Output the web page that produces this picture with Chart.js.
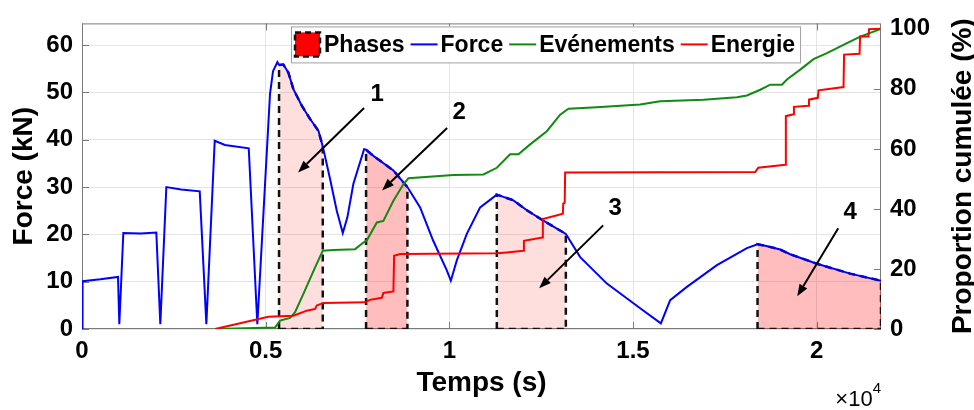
<!DOCTYPE html>
<html><head><meta charset="utf-8">
<script src="https://cdn.jsdelivr.net/npm/chart.js@4/dist/chart.umd.min.js"></script>
<style>html,body{margin:0;padding:0;background:#fff;overflow:hidden}#wrap{width:974px;height:410px}</style>
</head><body><div id="wrap"><canvas id="c" width="974" height="410"></canvas></div>
<script>
// ---------- data ----------
const forceTime = [0,15,500,980,1016,1125,1600,2023,2132,2296,2700,3205,3385,3613,3890,4539,4773,4983,5118,5200,5318,5364,5481,5618,5754,5983,6209,6435,6554,6753,6935,7099,7224,7388,7679,7733,7932,8477,8858,9204,9558,9931,10040,10203,10475,10838,11292,11744,12109,12561,13171,13561,14288,15194,15758,16011,16466,17283,18100,18389,18600,19006,19278,20005,20913,21750];
const forceKN = [0,10.1,10.5,11.0,1.0,20.3,20.2,20.4,1.0,30.0,29.5,29.1,1.0,39.8,38.9,38.2,1.0,30.7,49.7,54.5,56.4,55.8,55.9,54.2,50.7,47.2,44.4,41.9,38.6,31.7,25.0,20.3,23.6,30.7,38.0,37.9,36.6,33.5,30.0,25.7,18.7,12.4,10.2,14.5,20.1,25.7,28.4,27.2,25.1,22.9,20.1,15.2,9.6,4.4,1.2,6.1,8.9,13.5,17.1,17.9,17.6,16.8,15.8,13.8,11.7,10.2];
const eventTime = [3622,5255,5392,5664,5800,6026,6345,6554,6843,7434,7660,7752,8025,8204,8477,8749,8885,10111,10928,11292,11654,11881,12199,12654,13016,13242,14015,15194,15739,16918,17828,18100,18462,18735,19053,19190,19551,19913,20278,20823,21185,21730];
const eventPct = [0,0.5,2.8,3.7,5.6,11.7,20.5,26.1,26.3,26.6,28.8,29.5,35.5,36.0,42.7,48.2,50.2,51.3,51.5,53.7,58.2,58.2,61.5,65.9,71.4,73.4,73.9,74.8,75.9,76.4,77.2,77.8,79.7,81.4,81.4,83.1,86.4,89.9,91.9,95.2,97.4,99.9];
const energyTime = [3622,5073,5754,6119,6345,6391,6571,7706,7841,8161,8204,8477,8496,8659,11292,11565,12017,12030,12534,12545,13090,13100,13140,13152,18326,18408,19143,19160,19368,19380,19777,19790,20030,20049,20730,20745,21166,21180,21411,21425,21730];
const energyPct = [0,4.1,4.4,6.1,6.7,7.8,8.7,8.9,9.7,10.4,12.0,12.5,24.4,25.0,25.2,25.5,26.1,29.4,30.5,36.6,38.4,41.8,42.0,52.1,52.3,53.7,54.7,70.9,71.5,74.0,74.4,76.4,77.0,79.5,80.6,91.4,91.7,97.4,97.4,99.9,100];
const phaseStart = [5364,7733,11292,18389];
const phaseEnd = [6554,8858,13171,21750];
const annText = ['1','2','3','4'];
const annTextT = [8033,10266,14514,20913];
const annTextF = [49.7,45.7,25.5,24.6];
const annFromT = [7679,9939,14187,20586];
const annFromF = [46.7,42.5,21.9,21.3];
const annToT = [5882,8169,12444,19469];
const annToF = [33.1,29.3,8.6,6.9];
const xTicks = [0,5000,10000,15000,20000];
const xTickLabels = ['0','0.5','1','1.5','2'];
const yLeftTicks = [0,10,20,30,40,50,60];
const yRightTicks = [0,20,40,60,80,100];
const seriesNames = ['Phases','Force','Evénements','Energie'];

// ---------- styles ----------
const FONT = '"Liberation Sans", Arial, Helvetica, sans-serif';
const phaseFill = ['rgba(255,0,0,0.13)','rgba(255,0,0,0.26)','rgba(255,0,0,0.13)','rgba(255,0,0,0.26)'];
const COL = {force:'#0000ff', events:'#108a10', energy:'#ff0000'};
const AXIS = '#7a7a7a', GRID = '#e4e4e4';

const pts = (xs, ys) => xs.map((x,i)=>({x:x, y:ys[i]}));
function phasePoints(i){
  const s = phaseStart[i], e = phaseEnd[i];
  const p = [{x:s,y:0}];
  forceTime.forEach((t,k)=>{ if (t>=s && t<=e) p.push({x:t,y:forceKN[k]}); });
  p.push({x:e,y:0});
  return p;
}
const bottoms = [];
phaseStart.forEach((s,i)=>{ bottoms.push({x:s,y:0},{x:phaseEnd[i],y:0}); if(i<phaseStart.length-1) bottoms.push({x:(phaseEnd[i]+phaseStart[i+1])/2,y:null}); });

const datasets = [
  {label:seriesNames[1], data:pts(forceTime,forceKN), borderColor:COL.force, borderWidth:2, pointRadius:0, fill:false, yAxisID:'y', order:2, tension:0},
  {label:seriesNames[2], data:pts(eventTime,eventPct), borderColor:COL.events, borderWidth:2, pointRadius:0, fill:false, yAxisID:'y2', order:1, tension:0},
  {label:seriesNames[3], data:pts(energyTime,energyPct), borderColor:COL.energy, borderWidth:2, pointRadius:0, fill:false, yAxisID:'y2', order:0, tension:0},
];
phaseStart.forEach((s,i)=>{
  datasets.push({label:seriesNames[0], data:phasePoints(i), borderColor:'#111', borderWidth:2.5, borderDash:[7,5], backgroundColor:phaseFill[i], fill:'origin', pointRadius:0, yAxisID:'y', order:10+i, tension:0});
});
datasets.push({label:seriesNames[0]+' base', data:bottoms, borderColor:'#111', borderWidth:2.5, borderDash:[7,5], fill:false, pointRadius:0, spanGaps:false, yAxisID:'y', order:9});

const frame = {
  id:'frame',
  beforeDatasetsDraw(chart){
    const {ctx, chartArea:a, scales} = chart;
    ctx.save();
    ctx.strokeStyle = AXIS; ctx.lineWidth = 1;
    ctx.strokeRect(a.left+0.5, a.top+0.5, a.right-a.left-1, a.bottom-a.top-1);
    const tl = 7;
    ctx.beginPath();
    xTicks.forEach(v=>{ const x=Math.round(scales.x.getPixelForValue(v))+0.5; ctx.moveTo(x,a.bottom); ctx.lineTo(x,a.bottom-tl); ctx.moveTo(x,a.top); ctx.lineTo(x,a.top+tl); });
    yLeftTicks.forEach(v=>{ const y=Math.round(scales.y.getPixelForValue(v))+0.5; ctx.moveTo(a.left,y); ctx.lineTo(a.left+tl,y); });
    yRightTicks.forEach(v=>{ const y=Math.round(scales.y2.getPixelForValue(v))+0.5; ctx.moveTo(a.right,y); ctx.lineTo(a.right-tl,y); });
    ctx.stroke();
    ctx.restore();
  },
  afterDatasetsDraw(chart){
    const {ctx, scales} = chart;
    ctx.save();
    ctx.strokeStyle = '#000'; ctx.fillStyle = '#000'; ctx.lineWidth = 2;
    annText.forEach((t,i)=>{
      const x1=scales.x.getPixelForValue(annFromT[i]), y1=scales.y.getPixelForValue(annFromF[i]);
      const x2=scales.x.getPixelForValue(annToT[i]), y2=scales.y.getPixelForValue(annToF[i]);
      const ang=Math.atan2(y2-y1,x2-x1), hl=12, hw=4.5;
      const bx=x2-hl*Math.cos(ang), by=y2-hl*Math.sin(ang);
      ctx.beginPath(); ctx.moveTo(x1,y1); ctx.lineTo(bx,by); ctx.stroke();
      ctx.beginPath(); ctx.moveTo(x2,y2);
      ctx.lineTo(bx+hw*Math.sin(ang), by-hw*Math.cos(ang));
      ctx.lineTo(bx-hw*Math.sin(ang), by+hw*Math.cos(ang));
      ctx.closePath(); ctx.fill();
      ctx.font = 'bold 24px '+FONT; ctx.textAlign='center'; ctx.textBaseline='middle';
      ctx.fillText(t, scales.x.getPixelForValue(annTextT[i]), scales.y.getPixelForValue(annTextF[i]));
    });
    ctx.restore();
  },
  afterDraw(chart){
    const {ctx, chartArea:a} = chart;
    ctx.save();
    // legend
    ctx.font = 'bold 23px '+FONT;
    const items = [
      {name:seriesNames[0], type:'box'},
      {name:seriesNames[1], type:'line', color:COL.force},
      {name:seriesNames[2], type:'line', color:COL.events},
      {name:seriesNames[3], type:'line', color:COL.energy}
    ];
    const symW=27, gapT=3, gapI=6, padL=3, padR=5;
    let w = padL+padR;
    items.forEach((it,i)=>{ w += symW+gapT+ctx.measureText(it.name).width + (i<items.length-1?gapI:0); });
    const lx = a.left+209, ly = a.top+3, lh = 36;
    ctx.fillStyle='#fff'; ctx.fillRect(lx,ly,w,lh);
    ctx.strokeStyle='#a0a0a0'; ctx.lineWidth=1; ctx.strokeRect(lx+0.5,ly+0.5,w,lh);
    let cx = lx+padL; const cy = ly+lh/2;
    ctx.textBaseline='middle'; ctx.textAlign='left';
    items.forEach((it,i)=>{
      if (it.type==='box'){
        ctx.fillStyle='#ff0000'; ctx.fillRect(cx+1,cy-12,symW-2,24);
        ctx.setLineDash([6,4]); ctx.strokeStyle='#111'; ctx.lineWidth=2.5;
        ctx.strokeRect(cx+1,cy-12,symW-2,24); ctx.setLineDash([]);
      } else {
        ctx.strokeStyle=it.color; ctx.lineWidth=2;
        ctx.beginPath(); ctx.moveTo(cx,cy); ctx.lineTo(cx+symW,cy); ctx.stroke();
      }
      cx += symW+gapT;
      ctx.fillStyle='#000'; ctx.fillText(it.name, cx, cy+1);
      cx += ctx.measureText(it.name).width + gapI;
    });
    // right axis title
    ctx.save();
    ctx.font='bold 28px '+FONT; ctx.fillStyle='#000'; ctx.textAlign='center'; ctx.textBaseline='middle';
    ctx.translate(a.right+82, (a.top+a.bottom)/2); ctx.rotate(-Math.PI/2);
    ctx.fillText('Proportion cumulée (%)',0,0);
    ctx.restore();
    // x exponent
    ctx.fillStyle='#000'; ctx.textBaseline='alphabetic';
    ctx.font='15px '+FONT; ctx.textAlign='right';
    ctx.fillText('4', a.right, a.bottom+64);
    const w4 = ctx.measureText('4').width;
    ctx.font='22px '+FONT;
    ctx.fillText('\u00d710', a.right-w4, a.bottom+77);
    ctx.restore();
  }
};

new Chart(document.getElementById('c'), {
  type:'line',
  data:{datasets},
  options:{
    responsive:false, animation:false, devicePixelRatio:1,
    layout:{padding:{top:22,left:0,right:0,bottom:0}},
    plugins:{legend:{display:false}, tooltip:{enabled:false}},
    scales:{
      x:{type:'linear', min:0, max:21750,
        afterBuildTicks:s=>{ s.ticks = xTicks.map(v=>({value:v})); },
        afterFit:s=>{ s.height = 81; },
        grid:{color:GRID, drawTicks:false}, border:{display:false},
        ticks:{padding:8, color:'#000', font:{family:FONT, size:24, weight:'bold'}, maxRotation:0,
          callback:(v,i)=>xTickLabels[xTicks.indexOf(v)]},
        title:{display:true, text:'Temps (s)', color:'#000', font:{family:FONT, size:28, weight:'bold'}, padding:{top:0,bottom:10}}
      },
      y:{type:'linear', position:'left', min:0, max:64.6,
        afterBuildTicks:s=>{ s.ticks = yLeftTicks.map(v=>({value:v})); },
        afterFit:s=>{ s.width = 82; },
        grid:{color:GRID, drawTicks:false}, border:{display:false},
        ticks:{padding:9, color:'#000', font:{family:FONT, size:24, weight:'bold'}, callback:v=>String(v)},
        title:{display:true, text:'Force (kN)', color:'#000', font:{family:FONT, size:28, weight:'bold'}, padding:{top:7,bottom:0}}
      },
      y2:{type:'linear', position:'right', min:0, max:101.8,
        afterBuildTicks:s=>{ s.ticks = yRightTicks.map(v=>({value:v})); },
        afterFit:s=>{ s.width = 93; },
        grid:{drawOnChartArea:false, drawTicks:false}, border:{display:false},
        ticks:{padding:9, color:'#000', font:{family:FONT, size:24, weight:'bold'}, callback:v=>String(v)}
      }
    }
  },
  plugins:[frame]
});
</script>
</body></html>
